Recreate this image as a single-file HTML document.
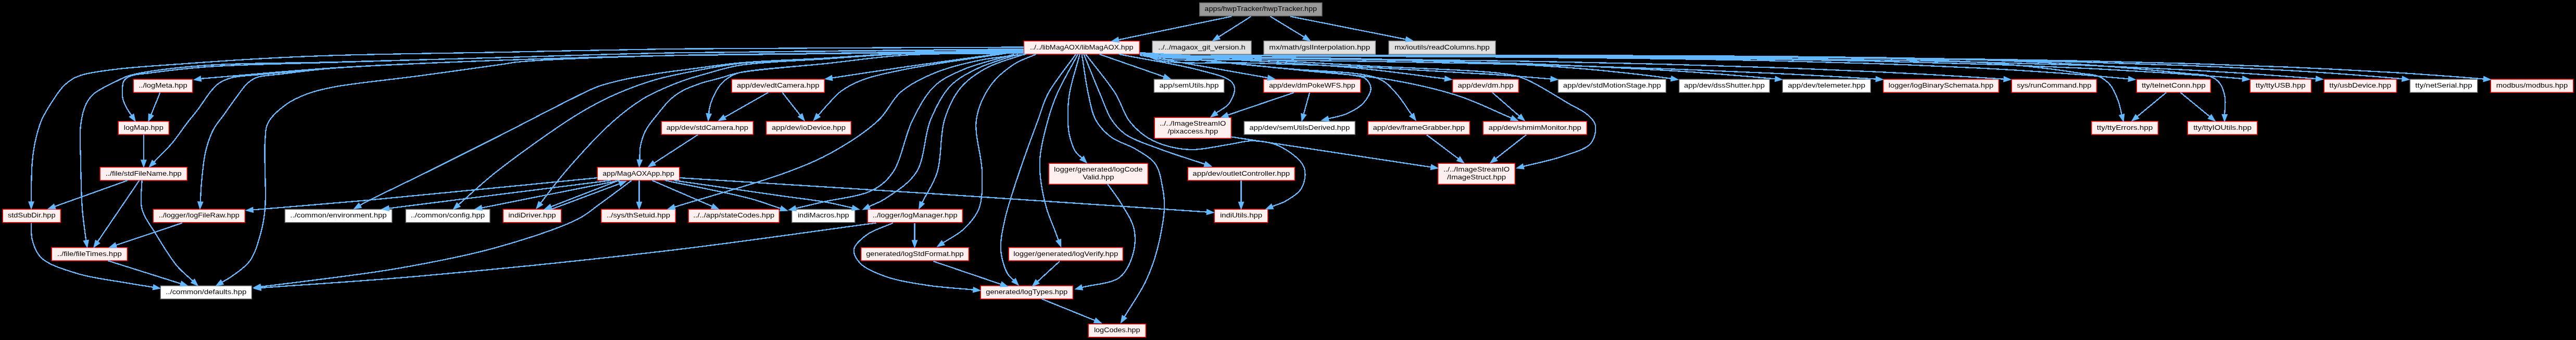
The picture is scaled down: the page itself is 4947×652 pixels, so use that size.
<!DOCTYPE html><html><head><meta charset="utf-8"><style>html,body{margin:0;padding:0;background:#000;overflow:hidden}svg{display:block;will-change:transform}text{font-family:"Liberation Sans",sans-serif;font-size:13.70px;fill:#000}</style></head><body>
<svg width="4947" height="652" viewBox="0 0 4947 652">
<rect x="0" y="0" width="4947" height="652" fill="#000"/>
<rect x="2303.67" y="5.34" width="235.17" height="25.33" fill="#999999" stroke="#666666" stroke-width="1.5"/>
<text x="2421.25" y="21.30" text-anchor="middle" textLength="215.73" lengthAdjust="spacingAndGlyphs">apps/hwpTracker/hwpTracker.hpp</text>
<rect x="1966.17" y="78.66" width="222.17" height="25.33" fill="#fff0f0" stroke="#ff0000" stroke-width="1.5"/>
<text x="2077.25" y="94.63" text-anchor="middle" textLength="198.31" lengthAdjust="spacingAndGlyphs">../../libMagAOX/libMagAOX.hpp</text>
<rect x="2213.17" y="78.66" width="189.67" height="25.33" fill="#e0e0e0" stroke="#999999" stroke-width="1.5"/>
<text x="2308.00" y="94.63" text-anchor="middle" textLength="167.33" lengthAdjust="spacingAndGlyphs">../../magaox_git_version.h</text>
<rect x="2427.17" y="78.66" width="214.17" height="25.33" fill="#e0e0e0" stroke="#999999" stroke-width="1.5"/>
<text x="2534.25" y="94.63" text-anchor="middle" textLength="193.79" lengthAdjust="spacingAndGlyphs">mx/math/gslInterpolation.hpp</text>
<rect x="2667.17" y="78.66" width="204.67" height="25.33" fill="#e0e0e0" stroke="#999999" stroke-width="1.5"/>
<text x="2769.50" y="94.63" text-anchor="middle" textLength="182.72" lengthAdjust="spacingAndGlyphs">mx/ioutils/readColumns.hpp</text>
<rect x="256.17" y="152.00" width="113.67" height="25.33" fill="#fff0f0" stroke="#ff0000" stroke-width="1.5"/>
<text x="313.00" y="167.97" text-anchor="middle" textLength="93.62" lengthAdjust="spacingAndGlyphs">../logMeta.hpp</text>
<rect x="1405.17" y="152.00" width="178.17" height="25.33" fill="#fff0f0" stroke="#ff0000" stroke-width="1.5"/>
<text x="1494.25" y="167.97" text-anchor="middle" textLength="158.41" lengthAdjust="spacingAndGlyphs">app/dev/edtCamera.hpp</text>
<rect x="2216.17" y="152.00" width="134.67" height="25.33" fill="#ffffff" stroke="#666666" stroke-width="1.5"/>
<text x="2283.50" y="167.97" text-anchor="middle" textLength="113.77" lengthAdjust="spacingAndGlyphs">app/semUtils.hpp</text>
<rect x="2426.67" y="152.00" width="186.17" height="25.33" fill="#fff0f0" stroke="#ff0000" stroke-width="1.5"/>
<text x="2519.75" y="167.97" text-anchor="middle" textLength="165.71" lengthAdjust="spacingAndGlyphs">app/dev/dmPokeWFS.hpp</text>
<rect x="2789.67" y="152.00" width="126.67" height="25.33" fill="#fff0f0" stroke="#ff0000" stroke-width="1.5"/>
<text x="2853.00" y="167.97" text-anchor="middle" textLength="106.96" lengthAdjust="spacingAndGlyphs">app/dev/dm.hpp</text>
<rect x="2992.17" y="152.00" width="207.17" height="25.33" fill="#ffffff" stroke="#666666" stroke-width="1.5"/>
<text x="3095.75" y="167.97" text-anchor="middle" textLength="187.81" lengthAdjust="spacingAndGlyphs">app/dev/stdMotionStage.hpp</text>
<rect x="3224.67" y="152.00" width="173.67" height="25.33" fill="#ffffff" stroke="#666666" stroke-width="1.5"/>
<text x="3311.50" y="167.97" text-anchor="middle" textLength="154.92" lengthAdjust="spacingAndGlyphs">app/dev/dssShutter.hpp</text>
<rect x="3423.17" y="152.00" width="169.17" height="25.33" fill="#ffffff" stroke="#666666" stroke-width="1.5"/>
<text x="3507.75" y="167.97" text-anchor="middle" textLength="148.66" lengthAdjust="spacingAndGlyphs">app/dev/telemeter.hpp</text>
<rect x="3616.67" y="152.00" width="221.67" height="25.33" fill="#fff0f0" stroke="#ff0000" stroke-width="1.5"/>
<text x="3727.50" y="167.97" text-anchor="middle" textLength="201.59" lengthAdjust="spacingAndGlyphs">logger/logBinarySchemata.hpp</text>
<rect x="3863.17" y="152.00" width="163.17" height="25.33" fill="#fff0f0" stroke="#ff0000" stroke-width="1.5"/>
<text x="3944.75" y="167.97" text-anchor="middle" textLength="143.13" lengthAdjust="spacingAndGlyphs">sys/runCommand.hpp</text>
<rect x="4103.17" y="152.00" width="142.17" height="25.33" fill="#fff0f0" stroke="#ff0000" stroke-width="1.5"/>
<text x="4174.25" y="167.97" text-anchor="middle" textLength="122.69" lengthAdjust="spacingAndGlyphs">tty/telnetConn.hpp</text>
<rect x="4321.17" y="152.00" width="117.17" height="25.33" fill="#fff0f0" stroke="#ff0000" stroke-width="1.5"/>
<text x="4379.75" y="167.97" text-anchor="middle" textLength="95.72" lengthAdjust="spacingAndGlyphs">tty/ttyUSB.hpp</text>
<rect x="4463.17" y="152.00" width="139.17" height="25.33" fill="#fff0f0" stroke="#ff0000" stroke-width="1.5"/>
<text x="4532.75" y="167.97" text-anchor="middle" textLength="118.87" lengthAdjust="spacingAndGlyphs">tty/usbDevice.hpp</text>
<rect x="4628.17" y="152.00" width="129.67" height="25.33" fill="#ffffff" stroke="#666666" stroke-width="1.5"/>
<text x="4693.00" y="167.97" text-anchor="middle" textLength="109.26" lengthAdjust="spacingAndGlyphs">tty/netSerial.hpp</text>
<rect x="4783.17" y="152.00" width="158.67" height="25.33" fill="#fff0f0" stroke="#ff0000" stroke-width="1.5"/>
<text x="4862.50" y="167.97" text-anchor="middle" textLength="137.52" lengthAdjust="spacingAndGlyphs">modbus/modbus.hpp</text>
<rect x="227.17" y="232.67" width="97.17" height="25.33" fill="#fff0f0" stroke="#ff0000" stroke-width="1.5"/>
<text x="275.75" y="248.63" text-anchor="middle" textLength="76.13" lengthAdjust="spacingAndGlyphs">logMap.hpp</text>
<rect x="1270.17" y="232.67" width="176.17" height="25.33" fill="#fff0f0" stroke="#ff0000" stroke-width="1.5"/>
<text x="1358.25" y="248.63" text-anchor="middle" textLength="157.19" lengthAdjust="spacingAndGlyphs">app/dev/stdCamera.hpp</text>
<rect x="1471.67" y="232.67" width="162.67" height="25.33" fill="#fff0f0" stroke="#ff0000" stroke-width="1.5"/>
<text x="1553.00" y="248.63" text-anchor="middle" textLength="142.07" lengthAdjust="spacingAndGlyphs">app/dev/ioDevice.hpp</text>
<rect x="2217.17" y="225.33" width="147.17" height="40.00" fill="#fff0f0" stroke="#ff0000" stroke-width="1.5"/>
<text x="2290.75" y="241.13" text-anchor="middle" textLength="127.11" lengthAdjust="spacingAndGlyphs">../../ImageStreamIO</text>
<text x="2290.75" y="256.13" text-anchor="middle" textLength="96.62" lengthAdjust="spacingAndGlyphs">/pixaccess.hpp</text>
<rect x="2389.17" y="232.67" width="213.17" height="25.33" fill="#ffffff" stroke="#666666" stroke-width="1.5"/>
<text x="2495.75" y="248.63" text-anchor="middle" textLength="193.00" lengthAdjust="spacingAndGlyphs">app/dev/semUtilsDerived.hpp</text>
<rect x="2627.17" y="232.67" width="195.17" height="25.33" fill="#fff0f0" stroke="#ff0000" stroke-width="1.5"/>
<text x="2724.75" y="248.63" text-anchor="middle" textLength="176.64" lengthAdjust="spacingAndGlyphs">app/dev/frameGrabber.hpp</text>
<rect x="2848.17" y="232.67" width="199.17" height="25.33" fill="#fff0f0" stroke="#ff0000" stroke-width="1.5"/>
<text x="2947.75" y="248.63" text-anchor="middle" textLength="178.22" lengthAdjust="spacingAndGlyphs">app/dev/shmimMonitor.hpp</text>
<rect x="4016.67" y="232.67" width="127.67" height="25.33" fill="#fff0f0" stroke="#ff0000" stroke-width="1.5"/>
<text x="4080.50" y="248.63" text-anchor="middle" textLength="107.49" lengthAdjust="spacingAndGlyphs">tty/ttyErrors.hpp</text>
<rect x="4201.17" y="232.67" width="133.67" height="25.33" fill="#fff0f0" stroke="#ff0000" stroke-width="1.5"/>
<text x="4268.00" y="248.63" text-anchor="middle" textLength="111.71" lengthAdjust="spacingAndGlyphs">tty/ttyIOUtils.hpp</text>
<rect x="192.17" y="320.66" width="167.17" height="25.33" fill="#fff0f0" stroke="#ff0000" stroke-width="1.5"/>
<text x="275.75" y="336.63" text-anchor="middle" textLength="145.93" lengthAdjust="spacingAndGlyphs">../file/stdFileName.hpp</text>
<rect x="1147.17" y="320.66" width="157.67" height="25.33" fill="#fff0f0" stroke="#ff0000" stroke-width="1.5"/>
<text x="1226.00" y="336.63" text-anchor="middle" textLength="137.53" lengthAdjust="spacingAndGlyphs">app/MagAOXApp.hpp</text>
<rect x="2014.17" y="313.33" width="190.17" height="40.00" fill="#fff0f0" stroke="#ff0000" stroke-width="1.5"/>
<text x="2109.25" y="329.13" text-anchor="middle" textLength="170.42" lengthAdjust="spacingAndGlyphs">logger/generated/logCode</text>
<text x="2109.25" y="344.13" text-anchor="middle" textLength="60.20" lengthAdjust="spacingAndGlyphs">Valid.hpp</text>
<rect x="2281.17" y="320.66" width="205.17" height="25.33" fill="#fff0f0" stroke="#ff0000" stroke-width="1.5"/>
<text x="2383.75" y="336.63" text-anchor="middle" textLength="186.80" lengthAdjust="spacingAndGlyphs">app/dev/outletController.hpp</text>
<rect x="2761.67" y="313.33" width="147.67" height="40.00" fill="#fff0f0" stroke="#ff0000" stroke-width="1.5"/>
<text x="2835.50" y="329.13" text-anchor="middle" textLength="127.11" lengthAdjust="spacingAndGlyphs">../../ImageStreamIO</text>
<text x="2835.50" y="344.13" text-anchor="middle" textLength="113.15" lengthAdjust="spacingAndGlyphs">/ImageStruct.hpp</text>
<rect x="5.17" y="401.33" width="111.17" height="25.33" fill="#fff0f0" stroke="#ff0000" stroke-width="1.5"/>
<text x="60.75" y="417.30" text-anchor="middle" textLength="91.51" lengthAdjust="spacingAndGlyphs">stdSubDir.hpp</text>
<rect x="294.17" y="401.33" width="176.17" height="25.33" fill="#fff0f0" stroke="#ff0000" stroke-width="1.5"/>
<text x="382.25" y="417.30" text-anchor="middle" textLength="155.04" lengthAdjust="spacingAndGlyphs">../logger/logFileRaw.hpp</text>
<rect x="547.17" y="401.33" width="205.67" height="25.33" fill="#ffffff" stroke="#666666" stroke-width="1.5"/>
<text x="650.00" y="417.30" text-anchor="middle" textLength="185.31" lengthAdjust="spacingAndGlyphs">../common/environment.hpp</text>
<rect x="779.17" y="401.33" width="161.67" height="25.33" fill="#ffffff" stroke="#666666" stroke-width="1.5"/>
<text x="860.00" y="417.30" text-anchor="middle" textLength="142.30" lengthAdjust="spacingAndGlyphs">../common/config.hpp</text>
<rect x="966.17" y="401.33" width="111.67" height="25.33" fill="#fff0f0" stroke="#ff0000" stroke-width="1.5"/>
<text x="1022.00" y="417.30" text-anchor="middle" textLength="91.40" lengthAdjust="spacingAndGlyphs">indiDriver.hpp</text>
<rect x="1154.67" y="401.33" width="142.67" height="25.33" fill="#fff0f0" stroke="#ff0000" stroke-width="1.5"/>
<text x="1226.00" y="417.30" text-anchor="middle" textLength="121.93" lengthAdjust="spacingAndGlyphs">../sys/thSetuid.hpp</text>
<rect x="1322.17" y="401.33" width="174.17" height="25.33" fill="#fff0f0" stroke="#ff0000" stroke-width="1.5"/>
<text x="1409.25" y="417.30" text-anchor="middle" textLength="156.00" lengthAdjust="spacingAndGlyphs">../../app/stateCodes.hpp</text>
<rect x="1520.67" y="401.33" width="121.17" height="25.33" fill="#ffffff" stroke="#666666" stroke-width="1.5"/>
<text x="1581.25" y="417.30" text-anchor="middle" textLength="98.71" lengthAdjust="spacingAndGlyphs">indiMacros.hpp</text>
<rect x="1666.17" y="401.33" width="182.17" height="25.33" fill="#fff0f0" stroke="#ff0000" stroke-width="1.5"/>
<text x="1757.25" y="417.30" text-anchor="middle" textLength="162.92" lengthAdjust="spacingAndGlyphs">../logger/logManager.hpp</text>
<rect x="2332.17" y="401.33" width="102.67" height="25.33" fill="#fff0f0" stroke="#ff0000" stroke-width="1.5"/>
<text x="2383.50" y="417.30" text-anchor="middle" textLength="81.20" lengthAdjust="spacingAndGlyphs">indiUtils.hpp</text>
<rect x="99.17" y="474.66" width="145.17" height="25.33" fill="#fff0f0" stroke="#ff0000" stroke-width="1.5"/>
<text x="171.75" y="490.63" text-anchor="middle" textLength="124.08" lengthAdjust="spacingAndGlyphs">../file/fileTimes.hpp</text>
<rect x="1653.67" y="474.66" width="206.67" height="25.33" fill="#fff0f0" stroke="#ff0000" stroke-width="1.5"/>
<text x="1757.00" y="490.63" text-anchor="middle" textLength="187.63" lengthAdjust="spacingAndGlyphs">generated/logStdFormat.hpp</text>
<rect x="1937.17" y="474.66" width="219.17" height="25.33" fill="#fff0f0" stroke="#ff0000" stroke-width="1.5"/>
<text x="2046.75" y="490.63" text-anchor="middle" textLength="201.04" lengthAdjust="spacingAndGlyphs">logger/generated/logVerify.hpp</text>
<rect x="308.17" y="548.00" width="175.17" height="25.33" fill="#ffffff" stroke="#666666" stroke-width="1.5"/>
<text x="395.75" y="563.97" text-anchor="middle" textLength="155.04" lengthAdjust="spacingAndGlyphs">../common/defaults.hpp</text>
<rect x="1883.17" y="548.00" width="177.17" height="25.33" fill="#fff0f0" stroke="#ff0000" stroke-width="1.5"/>
<text x="1971.75" y="563.97" text-anchor="middle" textLength="156.85" lengthAdjust="spacingAndGlyphs">generated/logTypes.hpp</text>
<rect x="2090.17" y="621.34" width="110.17" height="25.33" fill="#fff0f0" stroke="#ff0000" stroke-width="1.5"/>
<text x="2145.25" y="637.30" text-anchor="middle" textLength="88.75" lengthAdjust="spacingAndGlyphs">logCodes.hpp</text>
<g fill="none" stroke="#63b8ff" stroke-width="2.3" shape-rendering="crispEdges"><path d="M2365.00,31.50 L2148.22,76.27"/><path d="M2402.50,31.50 L2340.41,70.78"/><path d="M2439.50,31.50 L2504.46,70.99"/><path d="M2478.00,31.50 L2699.76,75.38"/><path d="M1966.00,90.50 C1740.67,91.60 1474.02,91.58 1290.00,93.80 C1162.98,95.33 1075.50,97.94 968.00,100.00 C860.17,102.07 730.39,103.48 644.00,106.20 C586.39,108.01 548.47,109.82 500.00,112.50 C450.49,115.23 397.71,119.00 350.00,122.50 C306.42,125.70 259.84,128.30 225.00,132.50 C199.75,135.54 175.30,138.76 160.00,143.00 C151.25,145.42 146.26,147.41 140.00,151.00 C133.56,154.69 127.89,158.94 122.00,165.00 C114.48,172.73 106.88,184.41 100.00,195.00 C92.84,206.03 85.31,217.62 80.00,230.00 C74.59,242.60 71.01,256.56 68.00,270.00 C65.04,283.23 63.35,295.28 62.00,310.00 C60.36,327.94 60.23,356.10 60.00,370.00 C59.88,377.39 60.00,381.33 60.00,387.00"/><path d="M1966.00,94.00 C1740.67,96.47 1474.01,97.88 1290.00,101.40 C1162.98,103.83 1075.50,107.27 968.00,110.20 C860.17,113.14 744.36,116.40 644.00,119.00 C556.91,121.25 467.77,120.38 400.00,125.00 C351.35,128.32 302.31,134.30 275.00,139.00 C261.48,141.33 253.86,143.00 245.00,146.00 C237.52,148.53 232.90,151.04 225.00,155.00 C212.90,161.07 190.39,170.94 180.00,180.00 C172.76,186.31 168.95,191.71 165.00,200.00 C159.93,210.65 156.89,224.68 155.00,240.00 C152.54,259.96 154.59,285.21 155.00,310.00 C155.47,338.12 155.96,372.92 158.00,400.00 C159.69,422.40 162.80,440.80 165.21,461.20"/><path d="M1966.00,95.00 C1740.67,97.13 1474.01,98.01 1290.00,101.40 C1162.98,103.74 1075.50,107.19 968.00,110.20 C860.17,113.22 744.35,116.31 644.00,119.50 C556.91,122.27 465.72,123.36 400.00,128.00 C355.26,131.16 314.92,136.35 287.50,140.00 C271.62,142.12 258.73,142.30 250.00,146.00 C244.51,148.33 240.50,151.03 238.00,155.00 C235.47,159.01 235.40,164.61 235.00,170.00 C234.54,176.16 234.43,183.48 236.00,190.00 C237.64,196.83 241.90,204.39 245.00,210.00 C247.44,214.41 250.01,217.51 252.51,221.27"/><path d="M1966.00,97.00 C1740.67,100.13 1474.02,102.58 1290.00,106.40 C1162.98,109.04 1075.48,111.38 968.00,115.30 C860.15,119.24 745.82,123.58 644.00,130.00 C553.01,135.74 471.89,143.91 385.83,150.87"/><path d="M1966.00,98.00 C1740.67,100.80 1474.02,102.71 1290.00,106.40 C1162.98,108.94 1075.48,111.31 968.00,115.30 C860.15,119.30 730.35,124.61 644.00,130.40 C586.35,134.26 536.65,139.40 500.00,143.00 C477.32,145.23 459.53,145.11 445.00,149.00 C434.79,151.73 426.92,155.27 420.00,160.00 C413.90,164.17 410.35,168.68 405.00,175.00 C397.38,184.00 388.01,199.41 380.00,210.00 C373.09,219.14 367.26,225.63 360.00,235.00 C350.93,246.71 340.73,262.36 330.00,275.00 C319.34,287.56 307.23,298.77 295.84,310.65"/><path d="M1966.00,99.00 C1740.67,101.47 1474.01,102.85 1290.00,106.40 C1162.98,108.85 1075.48,111.31 968.00,115.30 C860.15,119.30 722.05,124.24 644.00,130.40 C599.67,133.90 567.94,138.46 540.00,142.00 C521.08,144.40 504.13,144.42 492.50,148.75 C484.84,151.60 480.63,154.93 475.00,160.00 C468.02,166.30 461.91,175.86 455.00,185.00 C446.99,195.59 437.87,208.98 430.00,220.00 C422.96,229.85 415.60,237.28 410.00,248.00 C403.62,260.20 398.75,274.54 395.00,290.00 C390.63,308.01 388.70,332.37 387.00,350.00 C385.67,363.80 385.53,374.68 384.80,387.02"/><path d="M1966.00,100.00 C1740.67,102.13 1469.61,101.74 1290.00,106.40 C1170.90,109.49 1037.47,114.69 993.00,119.00 C980.03,120.26 979.99,121.05 968.00,122.80 C937.31,127.27 858.68,138.23 804.00,145.60 C749.35,152.96 678.73,159.47 640.00,167.00 C618.35,171.21 605.46,174.20 590.00,180.00 C575.62,185.40 562.24,191.18 550.00,200.00 C537.12,209.28 521.63,222.19 515.00,235.00 C509.39,245.85 510.31,254.56 509.00,270.00 C506.49,299.53 511.95,366.93 509.00,400.00 C507.15,420.68 504.71,433.57 500.00,450.00 C495.15,466.92 489.75,486.38 480.00,500.00 C470.98,512.60 455.08,522.74 445.00,530.00 C438.12,534.96 432.72,537.37 426.58,541.05"/><path d="M1966.00,100.00 C1890.67,100.67 1808.22,99.61 1740.00,102.00 C1683.45,103.98 1637.48,108.44 1585.00,111.50 C1530.86,114.65 1465.90,116.48 1420.00,120.60 C1386.95,123.57 1361.98,127.71 1335.00,131.20 C1310.45,134.37 1288.12,136.90 1264.70,140.60 C1241.12,144.33 1215.07,148.67 1194.00,153.50 C1176.64,157.48 1162.43,160.80 1147.00,166.50 C1131.08,172.38 1119.73,178.85 1100.00,188.50 C1065.65,205.30 1000.22,239.68 960.00,260.00 C929.66,275.33 904.75,287.62 880.00,300.00 C858.56,310.72 843.46,318.39 820.00,330.00 C786.89,346.38 716.64,379.81 700.00,388.75 C695.52,391.16 694.43,392.02 691.64,393.66"/><path d="M1966.00,100.00 C1890.67,100.83 1808.22,100.03 1740.00,102.50 C1683.45,104.54 1637.48,108.83 1585.00,112.00 C1530.86,115.27 1465.85,116.65 1420.00,121.80 C1386.90,125.52 1361.93,130.74 1335.00,135.90 C1310.39,140.62 1285.67,145.53 1264.70,151.20 C1247.30,155.91 1233.78,160.44 1217.60,166.50 C1199.79,173.17 1181.11,180.80 1162.40,190.00 C1141.97,200.04 1124.70,209.34 1100.00,225.00 C1060.71,249.91 992.31,298.67 952.50,330.00 C923.65,352.71 904.63,371.57 880.69,392.35"/><path d="M1966.00,100.00 C1890.67,101.00 1808.22,100.35 1740.00,103.00 C1683.45,105.20 1637.46,109.35 1585.00,113.00 C1530.85,116.76 1461.42,118.63 1420.00,125.30 C1394.42,129.42 1377.80,135.38 1358.80,140.60 C1342.04,145.21 1326.24,149.66 1311.80,154.70 C1299.09,159.14 1288.70,163.33 1276.50,168.80 C1262.87,174.91 1248.86,180.74 1234.00,190.00 C1215.42,201.57 1195.92,216.20 1175.00,235.00 C1147.21,259.97 1109.59,301.52 1085.00,330.00 C1066.32,351.63 1053.89,369.59 1038.34,389.38"/><path d="M1966.00,102.00 C1890.67,103.20 1808.17,101.46 1740.00,105.60 C1683.39,109.04 1637.47,116.46 1585.00,122.00 C1530.86,127.72 1455.49,132.63 1420.00,139.40 C1402.69,142.70 1394.41,146.60 1382.00,150.00 C1370.10,153.26 1358.57,155.54 1347.00,159.40 C1335.17,163.34 1322.12,167.95 1311.80,173.50 C1302.78,178.35 1295.69,183.10 1288.00,190.00 C1279.00,198.08 1270.11,209.83 1262.00,220.00 C1254.15,229.84 1245.40,239.56 1240.00,250.00 C1235.02,259.63 1231.91,270.19 1230.00,280.00 C1228.25,289.00 1228.89,297.68 1228.34,306.53"/><path d="M1947.00,99.40 C1878.00,108.93 1802.49,118.96 1740.00,128.00 C1688.21,135.50 1645.37,142.32 1598.05,149.48"/><path d="M1966.00,102.00 C1890.67,103.20 1808.17,101.46 1740.00,105.60 C1683.39,109.04 1637.47,116.46 1585.00,122.00 C1530.86,127.72 1447.61,132.17 1420.00,139.40 C1410.25,141.95 1407.01,143.79 1401.00,147.60 C1394.42,151.77 1387.73,157.36 1382.40,164.00 C1376.56,171.27 1371.49,181.72 1368.00,190.00 C1365.08,196.94 1363.01,204.78 1362.00,210.00 C1361.37,213.25 1361.50,215.37 1361.25,218.06"/><path d="M1947.00,100.00 C1878.00,110.87 1793.71,121.70 1740.00,132.60 C1705.27,139.65 1677.64,145.13 1655.00,153.80 C1638.72,160.04 1626.26,166.68 1615.00,175.00 C1605.05,182.35 1597.60,191.93 1590.00,200.00 C1583.24,207.17 1577.64,213.93 1571.46,220.90"/><path d="M1475.00,177.50 L1391.74,224.83"/><path d="M1502.50,177.50 L1536.65,220.89"/><path d="M1340.00,258.50 L1256.33,312.66"/><path d="M307.50,177.50 L290.11,220.01"/><path d="M275.90,258.00 L275.90,306.90"/><path d="M1970.50,104.00 C1941.20,107.77 1911.68,109.38 1882.60,115.30 C1853.08,121.31 1821.20,129.02 1794.70,140.00 C1770.75,149.92 1747.80,161.01 1729.70,176.50 C1712.41,191.30 1705.76,212.87 1687.60,230.00 C1664.86,251.44 1630.07,274.07 1600.00,291.00 C1571.45,307.07 1548.32,316.39 1512.00,330.00 C1456.26,350.89 1367.60,374.67 1295.40,397.01"/><path d="M1947.60,104.00 C1915.73,113.50 1879.25,120.89 1852.00,132.50 C1829.85,141.94 1810.85,149.78 1794.70,165.00 C1777.19,181.51 1765.09,205.25 1752.60,230.00 C1737.93,259.07 1731.27,306.51 1715.00,330.00 C1703.53,346.57 1692.51,355.98 1675.00,365.00 C1651.52,377.09 1608.80,380.71 1582.00,387.00 C1561.62,391.78 1546.10,395.36 1528.15,399.54"/><path d="M1955.00,104.00 C1929.60,112.87 1901.43,119.60 1878.80,130.60 C1858.67,140.38 1839.93,149.46 1825.00,165.00 C1808.79,181.87 1797.37,205.23 1787.00,230.00 C1774.84,259.06 1776.45,304.06 1760.00,330.00 C1745.66,352.62 1717.34,369.66 1700.00,381.00 C1688.55,388.49 1679.42,391.05 1669.13,396.08"/><path d="M1966.70,104.00 C1942.47,112.87 1915.15,118.95 1894.00,130.60 C1874.98,141.08 1857.62,152.75 1844.40,168.80 C1830.58,185.58 1821.10,206.42 1813.80,230.00 C1804.93,258.64 1808.76,301.71 1800.00,330.00 C1792.94,352.78 1780.49,369.02 1770.74,388.53"/><path d="M1989.60,104.00 C1975.60,110.33 1961.22,114.02 1947.60,123.00 C1931.78,133.43 1913.64,147.90 1901.70,165.00 C1889.01,183.17 1878.45,205.51 1875.00,230.00 C1870.87,259.30 1885.63,299.61 1886.00,330.00 C1886.31,355.39 1887.34,380.75 1880.00,400.00 C1873.80,416.24 1861.73,428.95 1850.00,440.00 C1838.70,450.64 1824.18,457.04 1811.27,465.56"/><path d="M2066.00,104.00 C2048.17,129.33 2024.94,156.58 2012.50,180.00 C2003.06,197.77 2000.74,210.44 1993.50,230.00 C1983.30,257.58 1968.34,297.41 1957.50,330.00 C1947.30,360.66 1935.92,392.81 1930.00,420.00 C1925.25,441.81 1920.63,461.57 1922.00,480.00 C1923.21,496.21 1929.33,515.13 1935.00,525.00 C1938.41,530.93 1942.79,533.16 1946.68,537.23"/><path d="M2070.00,104.00 C2056.67,129.33 2040.00,156.97 2030.00,180.00 C2022.15,198.08 2017.72,211.76 2012.60,230.00 C2006.65,251.21 1999.53,279.81 1997.50,300.00 C1995.99,315.09 1996.46,325.40 1998.00,340.00 C1999.90,358.06 2004.92,382.20 2010.00,400.00 C2014.25,414.87 2020.82,428.90 2025.00,440.00 C2027.99,447.93 2030.15,453.58 2032.72,460.38"/><path d="M2073.70,104.00 C2067.05,129.33 2057.39,157.15 2053.75,180.00 C2050.85,198.25 2050.46,215.46 2050.80,230.00 C2051.07,241.28 2051.70,250.14 2054.00,260.00 C2056.36,270.15 2060.24,282.45 2065.00,290.00 C2068.57,295.66 2073.37,298.56 2077.56,302.85"/><path d="M2077.60,104.00 C2081.73,129.33 2084.95,157.44 2090.00,180.00 C2094.15,198.54 2096.44,215.81 2104.30,230.00 C2111.56,243.11 2121.93,253.89 2134.00,263.00 C2147.11,272.89 2166.57,277.08 2181.00,286.00 C2194.79,294.52 2210.34,302.45 2219.00,315.00 C2227.77,327.71 2230.21,347.02 2233.00,362.00 C2235.46,375.20 2236.71,385.06 2236.00,400.00 C2234.97,421.81 2228.57,455.52 2222.00,480.00 C2216.17,501.72 2209.63,519.88 2200.00,540.00 C2189.31,562.33 2172.97,584.95 2159.46,607.43"/><path d="M2081.40,104.00 C2091.77,129.33 2102.79,157.38 2112.50,180.00 C2120.44,198.48 2125.77,216.37 2135.00,230.00 C2142.77,241.48 2149.94,249.71 2162.00,258.00 C2178.37,269.26 2204.38,277.05 2228.00,286.00 C2254.52,296.05 2285.13,305.14 2313.70,314.71"/><path d="M2085.00,104.00 C2104.17,129.33 2128.05,156.68 2142.50,180.00 C2153.56,197.85 2157.32,216.13 2167.40,230.00 C2176.23,242.15 2186.86,252.05 2198.00,260.00 C2208.50,267.49 2218.96,272.65 2232.00,277.00 C2247.82,282.27 2267.33,286.57 2287.00,287.00 C2309.58,287.49 2338.41,280.10 2360.00,277.00 C2377.25,274.52 2390.75,269.62 2406.50,270.00 C2422.90,270.39 2440.94,272.51 2456.50,280.00 C2473.68,288.27 2497.86,304.87 2504.00,320.00 C2508.94,332.17 2505.77,349.12 2500.00,360.00 C2494.31,370.72 2480.17,378.88 2470.00,385.00 C2461.29,390.25 2452.33,392.25 2443.49,395.88"/><path d="M2111.50,104.00 L2235.25,147.06"/><path d="M2149.00,104.00 C2199.50,113.92 2261.27,123.28 2300.50,133.75 C2326.15,140.60 2352.50,146.08 2363.00,155.00 C2368.33,159.53 2370.62,164.08 2371.00,170.00 C2371.51,177.99 2365.95,191.20 2360.00,199.00 C2354.17,206.64 2343.94,210.70 2335.91,216.55"/><path d="M2485.00,177.50 L2357.78,220.66"/><path d="M2515.00,177.50 L2503.58,218.98"/><path d="M2866.00,177.50 L2917.82,222.63"/><path d="M2365.00,262.50 L2748.15,320.48"/><path d="M2740.00,258.75 L2800.71,304.39"/><path d="M2931.00,258.50 L2872.63,304.18"/><path d="M2383.50,346.00 L2383.50,387.50"/><path d="M4160.00,177.50 L4104.41,223.40"/><path d="M4187.50,177.50 L4243.56,223.44"/><path d="M1147.50,341.00 C998.33,355.50 822.00,373.48 700.00,384.50 C615.67,392.12 557.30,396.42 485.95,402.38"/><path d="M1172.50,346.00 L746.89,399.52"/><path d="M1190.00,346.00 L925.24,398.57"/><path d="M1187.00,346.50 L1058.29,396.33"/><path d="M1059.00,401.20 L1189.75,352.33"/><path d="M1213.00,346.00 C1192.33,361.27 1169.64,378.51 1151.00,391.80 C1136.02,402.48 1128.94,410.40 1110.00,420.00 C1075.45,437.51 1008.84,459.11 953.70,474.50 C894.02,491.16 827.40,503.63 764.00,514.70 C701.06,525.69 623.33,534.48 574.70,540.80 C544.27,544.75 525.17,546.84 500.40,549.87"/><path d="M1227.50,346.00 L1227.50,387.50"/><path d="M1252.50,346.00 L1367.60,395.65"/><path d="M1277.50,346.00 C1331.67,357.53 1399.44,369.72 1440.00,380.60 C1464.82,387.26 1479.44,393.42 1499.16,399.83"/><path d="M1295.00,346.00 C1362.00,355.67 1441.92,367.28 1496.00,375.00 C1532.58,380.22 1562.22,383.38 1588.00,388.00 C1606.90,391.39 1620.54,395.09 1636.81,398.63"/><path d="M1305.00,341.00 C1470.00,351.33 1633.18,361.20 1800.00,372.00 C1970.60,383.04 2145.02,395.07 2317.53,406.60"/><path d="M245.00,346.00 L105.21,395.96"/><path d="M267.50,346.00 L187.60,463.34"/><path d="M272.50,346.00 C272.50,364.00 268.10,382.88 272.50,400.00 C277.02,417.60 289.56,432.80 300.00,450.00 C311.73,469.33 326.72,494.21 340.00,510.00 C350.10,522.00 360.14,529.13 370.21,538.70"/><path d="M350.00,427.50 L222.80,470.20"/><path d="M60.00,427.50 C60.67,438.33 59.05,449.27 62.00,460.00 C65.24,471.79 69.49,485.21 80.00,495.00 C94.61,508.62 124.75,517.30 150.00,525.00 C177.69,533.44 213.76,537.38 240.00,542.00 C260.31,545.57 276.12,547.89 294.18,550.83"/><path d="M207.50,500.00 L347.12,543.95"/><path d="M1682.50,427.50 C1551.00,445.00 1426.62,463.68 1288.00,480.00 C1134.10,498.12 942.93,517.42 800.00,530.00 C688.26,539.83 600.64,544.67 500.96,552.01"/><path d="M1756.50,427.50 L1756.50,461.00"/><path d="M1715.00,427.50 C1698.33,435.00 1678.06,440.43 1665.00,450.00 C1654.20,457.92 1641.53,468.24 1640.00,478.00 C1638.64,486.66 1644.68,497.21 1652.00,505.00 C1661.91,515.55 1681.45,523.34 1700.00,530.00 C1722.81,538.19 1752.50,542.75 1780.00,547.00 C1808.77,551.45 1839.38,552.79 1869.06,555.69"/><path d="M1792.50,501.00 L1922.22,545.15"/><path d="M2035.00,501.00 L1992.46,539.89"/><path d="M2127.00,353.00 C2135.67,365.33 2144.89,376.41 2153.00,390.00 C2162.02,405.11 2174.49,422.85 2178.00,440.00 C2181.32,456.23 2179.74,474.59 2175.00,490.00 C2170.32,505.22 2163.30,521.96 2150.00,532.00 C2133.58,544.38 2102.03,544.70 2078.05,551.05"/><path d="M2000.00,573.00 L2102.48,614.44"/><path d="M2189.00,103.00 C2259.33,110.33 2330.77,118.00 2400.00,125.00 C2467.04,131.78 2564.03,138.39 2598.00,144.40 C2609.99,146.52 2616.15,146.17 2622.00,150.60 C2627.42,154.70 2632.50,162.11 2632.70,169.00 C2632.95,177.51 2625.36,189.95 2618.00,198.00 C2609.95,206.80 2596.47,213.64 2585.00,218.60 C2574.11,223.31 2562.37,224.57 2551.05,227.56"/><path d="M2189.00,102.00 C2276.00,111.33 2369.10,121.43 2450.00,130.00 C2520.27,137.44 2609.98,135.25 2647.00,150.60 C2664.15,157.71 2669.81,166.65 2680.00,177.40 C2691.36,189.38 2700.70,205.86 2711.06,220.08"/><path d="M2189.00,102.00 C2292.67,113.00 2412.17,125.71 2500.00,135.00 C2564.55,141.83 2615.63,143.85 2668.00,152.70 C2714.91,160.63 2759.28,170.45 2800.00,183.60 C2836.86,195.50 2868.36,212.07 2902.54,226.31"/><path d="M2189.00,101.00 C2326.00,109.00 2474.37,117.62 2600.00,125.00 C2706.38,131.25 2843.48,133.88 2894.70,142.40 C2913.20,145.48 2917.41,146.72 2931.80,152.70 C2954.49,162.13 2993.79,187.81 3015.00,200.00 C3028.19,207.58 3038.60,211.25 3047.00,218.60 C3054.19,224.89 3061.79,231.48 3063.60,240.00 C3065.69,249.83 3062.79,265.61 3055.00,275.00 C3044.92,287.15 3020.06,292.92 3000.00,300.00 C2977.38,307.98 2950.38,312.76 2925.57,319.14"/><path d="M2189.00,106.00 L2434.70,149.16"/><path d="M2189.00,104.00 C2326.00,112.67 2491.99,120.13 2600.00,130.00 C2670.58,136.45 2716.40,143.93 2774.60,150.90"/><path d="M2189.00,101.00 C2202.67,106.18 2211.25,112.87 2230.00,116.55 C2266.93,123.79 2341.04,119.00 2400.00,120.78 C2463.96,122.71 2528.24,124.59 2600.00,127.87 C2683.73,131.69 2871.98,143.39 2872.00,143.08 C2872.01,142.97 2841.60,140.93 2841.60,140.96 C2841.60,141.00 2906.50,145.62 2931.60,147.60 C2949.66,149.02 2962.64,150.20 2978.15,151.51"/><path d="M2189.00,101.00 C2202.67,103.31 2211.58,106.30 2230.00,107.93 C2267.24,111.20 2341.03,108.64 2400.00,109.32 C2463.96,110.07 2528.23,110.62 2600.00,112.32 C2683.72,114.30 2798.24,117.73 2872.00,121.14 C2922.63,123.48 2963.34,126.22 3000.00,128.84 C3027.65,130.81 3047.19,132.42 3072.70,134.85 C3101.12,137.55 3137.60,141.49 3162.70,144.51 C3180.80,146.69 3193.80,148.66 3209.34,150.74"/><path d="M2189.00,101.00 C2202.67,103.88 2211.53,107.62 2230.00,109.63 C2267.20,113.68 2341.03,110.54 2400.00,111.23 C2463.96,111.98 2528.22,112.69 2600.00,114.02 C2683.71,115.59 2798.22,118.20 2872.00,120.37 C2922.62,121.85 2952.60,122.86 3000.00,124.90 C3059.27,127.44 3149.90,132.05 3200.00,135.00 C3230.18,136.78 3247.03,138.00 3272.50,139.87 C3300.89,141.96 3337.40,144.91 3362.50,147.07 C3380.56,148.63 3393.54,149.94 3409.07,151.38"/><path d="M2189.00,101.00 C2202.67,104.90 2211.42,110.00 2230.00,112.70 C2267.09,118.09 2341.03,113.78 2400.00,114.50 C2463.96,115.27 2528.22,116.06 2600.00,117.24 C2683.71,118.61 2798.22,120.80 2872.00,122.44 C2922.62,123.56 2952.60,124.31 3000.00,125.66 C3059.26,127.34 3133.34,129.54 3200.00,132.00 C3266.67,134.45 3351.36,138.14 3400.00,140.38 C3427.95,141.67 3442.30,142.44 3466.00,143.70 C3493.68,145.18 3530.91,147.28 3556.00,148.76 C3574.05,149.82 3587.02,150.67 3602.53,151.63"/><path d="M2189.00,101.00 C2202.67,104.02 2211.52,107.97 2230.00,110.05 C2267.18,114.23 2341.03,110.75 2400.00,111.22 C2463.96,111.74 2528.22,112.25 2600.00,113.05 C2683.71,113.98 2798.22,115.47 2872.00,116.60 C2922.61,117.37 2952.59,117.89 3000.00,118.84 C3059.26,120.02 3133.34,121.57 3200.00,123.32 C3266.67,125.08 3333.34,127.01 3400.00,129.38 C3466.67,131.75 3542.99,134.92 3600.00,137.55 C3642.59,139.52 3676.40,141.34 3711.60,143.30 C3743.22,145.06 3776.51,147.10 3801.60,148.68 C3819.65,149.82 3832.62,150.74 3848.13,151.77"/><path d="M2189.00,101.00 C2202.67,102.95 2211.61,105.52 2230.00,106.85 C2267.27,109.54 2341.03,107.06 2400.00,107.22 C2463.96,107.40 2528.22,107.56 2600.00,107.88 C2683.71,108.24 2798.22,108.85 2872.00,109.36 C2922.61,109.71 2952.59,109.94 3000.00,110.42 C3059.26,111.02 3133.33,111.78 3200.00,112.78 C3266.67,113.78 3333.34,114.88 3400.00,116.41 C3466.67,117.94 3533.34,119.62 3600.00,121.97 C3666.68,124.32 3738.02,127.27 3800.00,130.51 C3853.88,133.33 3907.15,136.76 3951.00,139.87 C3984.87,142.27 4015.90,144.91 4041.00,147.07 C4059.06,148.63 4072.04,149.94 4087.57,151.38"/><path d="M2189.00,101.00 C2202.67,102.93 2211.61,105.48 2230.00,106.79 C2267.27,109.44 2341.03,106.97 2400.00,107.10 C2463.96,107.24 2528.22,107.38 2600.00,107.62 C2683.71,107.90 2798.22,108.37 2872.00,108.75 C2922.61,109.01 2952.59,109.19 3000.00,109.53 C3059.26,109.96 3133.33,110.52 3200.00,111.21 C3266.67,111.91 3333.33,112.67 3400.00,113.70 C3466.67,114.72 3533.34,115.85 3600.00,117.36 C3666.67,118.88 3733.34,120.54 3800.00,122.78 C3866.67,125.01 3936.05,127.66 4000.00,130.77 C4058.98,133.63 4122.28,137.38 4170.00,140.49 C4204.74,142.76 4234.90,145.13 4260.00,147.10 C4278.06,148.52 4291.04,149.70 4306.55,151.01"/><path d="M2189.00,101.00 C2202.67,102.89 2211.61,105.38 2230.00,106.66 C2267.27,109.25 2341.03,106.81 2400.00,106.91 C2463.96,107.03 2528.22,107.14 2600.00,107.33 C2683.71,107.56 2798.22,107.94 2872.00,108.24 C2922.61,108.45 2952.59,108.59 3000.00,108.86 C3059.26,109.20 3133.33,109.64 3200.00,110.18 C3266.67,110.73 3333.33,111.33 3400.00,112.12 C3466.67,112.92 3533.34,113.80 3600.00,114.96 C3666.67,116.13 3733.34,117.41 3800.00,119.12 C3866.67,120.82 3933.34,122.70 4000.00,125.20 C4066.68,127.70 4143.09,131.14 4200.00,134.10 C4242.42,136.31 4275.94,138.41 4311.00,140.72 C4342.58,142.80 4375.90,145.28 4401.00,147.21 C4419.06,148.60 4432.03,149.76 4447.55,151.03"/><path d="M2189.00,101.00 C2202.67,102.79 2211.62,105.16 2230.00,106.37 C2267.27,108.81 2341.03,106.45 2400.00,106.52 C2463.96,106.59 2528.22,106.65 2600.00,106.77 C2683.71,106.91 2798.22,107.15 2872.00,107.34 C2922.61,107.47 2952.59,107.56 3000.00,107.74 C3059.26,107.96 3133.33,108.24 3200.00,108.60 C3266.67,108.96 3333.33,109.36 3400.00,109.90 C3466.67,110.44 3533.33,111.03 3600.00,111.84 C3666.67,112.64 3733.34,113.53 3800.00,114.74 C3866.67,115.96 3933.34,117.29 4000.00,119.10 C4066.67,120.92 4133.34,122.91 4200.00,125.63 C4266.68,128.35 4349.04,132.53 4400.00,135.41 C4431.55,137.20 4450.04,138.47 4476.60,140.34 C4505.40,142.36 4541.50,145.14 4566.60,147.19 C4584.66,148.66 4597.64,149.90 4613.16,151.25"/><path d="M2189.00,101.00 C2202.67,102.80 2211.62,105.19 2230.00,106.40 C2267.27,108.86 2341.03,106.49 2400.00,106.55 C2463.96,106.62 2528.22,106.69 2600.00,106.80 C2683.71,106.93 2798.22,107.15 2872.00,107.33 C2922.61,107.45 2952.59,107.53 3000.00,107.69 C3059.26,107.88 3133.33,108.14 3200.00,108.45 C3266.67,108.76 3333.33,109.10 3400.00,109.55 C3466.67,110.00 3533.33,110.50 3600.00,111.15 C3666.67,111.81 3733.33,112.53 3800.00,113.48 C3866.67,114.43 3933.34,115.48 4000.00,116.86 C4066.67,118.24 4133.34,119.76 4200.00,121.76 C4266.67,123.77 4333.34,125.97 4400.00,128.88 C4466.68,131.79 4561.49,136.99 4600.00,139.21 C4615.65,140.11 4619.30,140.39 4633.00,141.31 C4655.63,142.85 4697.90,145.84 4723.00,147.76 C4741.05,149.14 4754.03,150.28 4769.55,151.54"/><path d="M2189.00,101.00 C2202.67,102.67 2211.62,104.89 2230.00,106.01 C2267.28,108.28 2341.03,106.02 2400.00,106.02 C2463.96,106.03 2528.22,106.03 2600.00,106.06 C2683.71,106.09 2798.22,106.13 2872.00,106.20 C2922.61,106.24 2952.59,106.26 3000.00,106.36 C3059.26,106.47 3133.33,106.58 3200.00,106.88 C3266.67,107.19 3333.34,107.43 3400.00,108.19 C3466.67,108.95 3533.34,109.55 3600.00,111.44 C3666.68,113.32 3755.57,117.07 3800.00,119.50 C3822.23,120.71 3830.92,121.27 3850.00,122.94 C3875.64,125.18 3913.62,129.18 3940.00,132.50 C3960.78,135.12 3979.29,138.06 3995.60,140.60 C4008.45,142.60 4020.12,142.08 4030.00,146.30 C4038.97,150.13 4046.80,156.04 4053.00,163.50 C4059.74,171.62 4064.33,184.06 4068.00,194.00 C4071.26,202.82 4072.43,211.28 4074.65,219.92"/><path d="M2189.00,101.00 C2202.67,102.68 2211.62,104.91 2230.00,106.03 C2267.28,108.31 2341.03,106.05 2400.00,106.06 C2463.96,106.07 2528.22,106.08 2600.00,106.12 C2683.71,106.16 2798.22,106.24 2872.00,106.32 C2922.61,106.37 2952.59,106.41 3000.00,106.50 C3059.26,106.62 3133.33,106.76 3200.00,107.02 C3266.67,107.29 3333.33,107.55 3400.00,108.09 C3466.67,108.63 3533.34,109.17 3600.00,110.27 C3666.67,111.38 3733.35,112.47 3800.00,114.73 C3866.68,116.98 3967.97,122.04 4000.00,123.82 C4010.13,124.39 4010.01,124.37 4020.00,125.14 C4050.01,127.45 4160.32,136.86 4200.00,141.00 C4219.65,143.05 4232.77,141.98 4244.00,146.30 C4252.14,149.43 4258.27,153.53 4263.00,159.70 C4268.24,166.54 4271.19,176.94 4272.80,186.50 C4274.53,196.78 4272.42,208.50 4272.23,219.50"/></g>
<g fill="#63b8ff" stroke="#63b8ff" stroke-width="1.33"><polygon points="2135.00,79.00 2147.21,71.37 2149.23,81.17"/><polygon points="2329.00,78.00 2337.74,66.56 2343.08,75.01"/><polygon points="2516.00,78.00 2501.87,75.26 2507.06,66.72"/><polygon points="2713.00,78.00 2698.79,80.28 2700.73,70.47"/><polygon points="60.00,400.50 55.00,387.00 65.00,387.00"/><polygon points="167.50,474.50 160.28,462.05 170.13,460.35"/><polygon points="260.00,232.50 248.35,224.04 256.67,218.49"/><polygon points="372.50,153.00 385.04,145.93 386.62,155.80"/><polygon points="286.50,320.40 292.23,307.19 299.45,314.11"/><polygon points="384.00,400.50 379.81,386.73 389.79,387.32"/><polygon points="415.00,548.00 424.00,536.77 429.15,545.34"/><polygon points="680.00,400.50 689.11,389.35 694.17,397.97"/><polygon points="870.50,401.20 877.42,388.57 883.97,396.12"/><polygon points="1030.00,400.00 1034.41,386.30 1042.27,392.47"/><polygon points="1227.50,320.00 1223.35,306.21 1233.33,306.84"/><polygon points="1584.70,151.50 1597.30,144.54 1598.80,154.42"/><polygon points="1360.00,231.50 1356.27,217.59 1366.23,218.52"/><polygon points="1562.50,231.00 1567.72,217.58 1575.20,224.22"/><polygon points="1380.00,231.50 1389.27,220.48 1394.21,229.18"/><polygon points="1545.00,231.50 1532.72,223.98 1540.58,217.80"/><polygon points="1245.00,320.00 1253.62,308.47 1259.05,316.86"/><polygon points="285.00,232.50 285.48,218.11 294.74,221.90"/><polygon points="275.90,320.40 270.90,306.90 280.90,306.90"/><polygon points="1282.50,401.00 1293.92,392.23 1296.87,401.79"/><polygon points="1515.00,402.60 1527.01,394.67 1529.28,404.41"/><polygon points="1657.00,402.00 1666.94,391.58 1671.32,400.57"/><polygon points="1764.70,400.60 1766.27,386.29 1775.21,390.76"/><polygon points="1800.00,473.00 1808.51,461.39 1814.02,469.74"/><polygon points="1956.00,547.00 1943.06,540.69 1950.30,533.78"/><polygon points="2037.50,473.00 2028.04,462.15 2037.39,458.60"/><polygon points="2087.00,312.50 2073.99,306.34 2081.14,299.35"/><polygon points="2152.50,619.00 2155.17,604.85 2163.74,610.01"/><polygon points="2326.50,319.00 2312.11,319.45 2315.29,309.97"/><polygon points="2431.00,401.00 2441.59,391.25 2445.39,400.50"/><polygon points="2248.00,151.50 2233.61,151.79 2236.89,142.34"/><polygon points="2325.00,224.50 2332.97,212.51 2338.86,220.59"/><polygon points="2345.00,225.00 2356.18,215.93 2359.39,225.40"/><polygon points="2500.00,232.00 2498.76,217.66 2508.40,220.31"/><polygon points="2928.00,231.50 2914.54,226.40 2921.10,218.86"/><polygon points="2761.50,322.50 2747.40,325.42 2748.90,315.54"/><polygon points="2811.50,312.50 2797.70,308.38 2803.71,300.39"/><polygon points="2862.00,312.50 2869.55,300.24 2875.71,308.12"/><polygon points="2383.50,401.00 2378.50,387.50 2388.50,387.50"/><polygon points="4094.00,232.00 4101.23,219.55 4107.59,227.26"/><polygon points="4254.00,232.00 4240.39,227.31 4246.73,219.58"/><polygon points="472.50,403.50 485.54,397.39 486.37,407.36"/><polygon points="733.50,401.20 746.27,394.55 747.52,404.48"/><polygon points="912.00,401.20 924.27,393.67 926.22,403.48"/><polygon points="1045.70,401.20 1056.48,391.66 1060.09,400.99"/><polygon points="1202.40,347.60 1191.51,357.01 1188.00,347.64"/><polygon points="487.00,551.50 499.80,544.90 501.01,554.83"/><polygon points="1227.50,401.00 1222.50,387.50 1232.50,387.50"/><polygon points="1380.00,401.00 1365.62,400.24 1369.58,391.06"/><polygon points="1512.00,404.00 1497.62,404.58 1500.71,395.07"/><polygon points="1650.00,401.50 1635.75,403.51 1637.87,393.74"/><polygon points="2331.00,407.50 2317.20,411.59 2317.86,401.61"/><polygon points="92.50,400.50 103.53,391.25 106.90,400.67"/><polygon points="180.00,474.50 183.47,460.53 191.73,466.16"/><polygon points="380.00,548.00 366.77,542.33 373.66,535.08"/><polygon points="210.00,474.50 221.21,465.46 224.39,474.94"/><polygon points="307.50,553.00 293.37,555.76 294.98,545.89"/><polygon points="360.00,548.00 345.62,548.72 348.62,539.18"/><polygon points="487.50,553.00 500.60,547.02 501.33,557.00"/><polygon points="1756.50,474.50 1751.50,461.00 1761.50,461.00"/><polygon points="1882.50,557.00 1868.58,560.67 1869.55,550.71"/><polygon points="1935.00,549.50 1920.61,549.88 1923.83,540.42"/><polygon points="1982.50,549.00 1989.09,536.20 1995.84,543.58"/><polygon points="2065.00,554.50 2076.77,546.21 2079.33,555.88"/><polygon points="2115.00,619.50 2100.61,619.07 2104.36,609.80"/><polygon points="2538.00,231.00 2549.78,222.72 2552.33,232.39"/><polygon points="2719.00,231.00 2707.01,223.03 2715.10,217.14"/><polygon points="2915.00,231.50 2900.62,230.92 2904.46,221.69"/><polygon points="2912.50,322.50 2924.33,314.30 2926.82,323.98"/><polygon points="2448.00,151.50 2433.84,154.09 2435.57,144.24"/><polygon points="2788.00,152.50 2774.00,155.86 2775.19,145.93"/><polygon points="2991.60,152.70 2977.71,156.49 2978.60,146.52"/><polygon points="3222.70,152.70 3208.62,155.69 3210.07,145.79"/><polygon points="3422.50,152.70 3408.57,156.35 3409.56,146.40"/><polygon points="3616.00,152.50 3602.21,156.62 3602.85,146.64"/><polygon points="3861.60,152.70 3847.79,156.75 3848.48,146.78"/><polygon points="4101.00,152.70 4087.07,156.35 4088.06,146.40"/><polygon points="4320.00,152.20 4306.11,155.99 4307.00,146.02"/><polygon points="4461.00,152.20 4447.12,156.01 4447.98,146.05"/><polygon points="4626.60,152.50 4612.70,156.23 4613.62,146.27"/><polygon points="4783.00,152.70 4769.12,156.53 4769.98,146.56"/><polygon points="4078.00,233.00 4069.80,221.16 4079.49,218.68"/><polygon points="4272.00,233.00 4267.23,219.42 4277.23,219.59"/></g>
</svg></body></html>
